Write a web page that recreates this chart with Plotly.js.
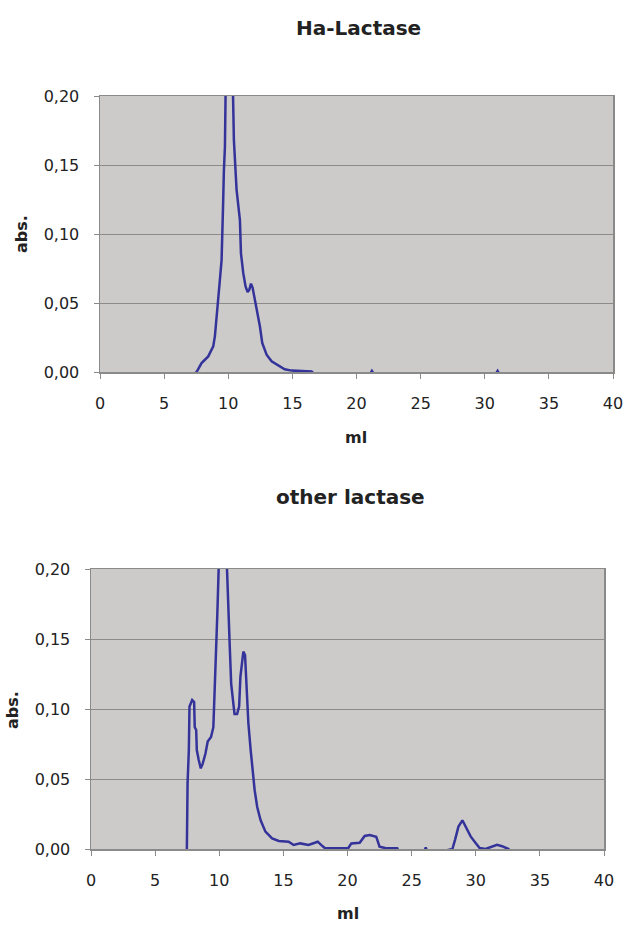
<!DOCTYPE html>
<html>
<head>
<meta charset="utf-8">
<script src="https://cdn.plot.ly/plotly-3.0.1.min.js"></script>
<style>html,body{margin:0;padding:0;background:#fff;}#chart{width:628px;height:928px;}</style>
</head>
<body>
<div id="chart"></div>
<script>
// Ha-Lactase elution profile
const haMl  = [0, 7.0, 7.53, 7.92, 8.44, 8.83, 8.96, 9.09, 9.22, 9.35, 9.48, 9.56, 9.6, 9.66, 9.74, 9.79, 9.95, 10.1, 10.25, 10.39, 10.44, 10.65, 10.91, 10.99, 11.17, 11.35, 11.51, 11.64, 11.77, 11.9, 12.08, 12.29, 12.47, 12.65, 12.99, 13.38, 13.9, 14.4, 14.94, 15.7, 16.5, 17.0, 20.9, 21.2, 21.5, 30.7, 31.0, 31.3, 40];
const haAbs = [-0.004, -0.004, 0.0, 0.0065, 0.0113, 0.0186, 0.026, 0.038, 0.052, 0.067, 0.081, 0.100, 0.122, 0.146, 0.163, 0.200, 0.260, 0.300, 0.260, 0.200, 0.168, 0.132, 0.110, 0.086, 0.0716, 0.062, 0.058, 0.0595, 0.064, 0.061, 0.052, 0.0427, 0.033, 0.021, 0.0125, 0.0077, 0.0046, 0.002, 0.001, 0.0005, 0.0003, -0.004, -0.004, 0.0008, -0.004, -0.004, 0.0008, -0.004, -0.004];

// other lactase elution profile
const otMl  = [0, 7.47, 7.53, 7.63, 7.68, 7.89, 8.04, 8.09, 8.2, 8.25, 8.4, 8.56, 8.71, 8.92, 9.1, 9.36, 9.54, 9.61, 9.74, 9.85, 9.95, 10.1, 10.3, 10.45, 10.59, 10.67, 10.82, 10.93, 11.08, 11.19, 11.39, 11.55, 11.65, 11.75, 11.88, 12.01, 12.11, 12.27, 12.45, 12.58, 12.76, 12.96, 13.22, 13.6, 14.12, 14.64, 15.41, 15.8, 16.31, 16.96, 17.35, 17.68, 17.94, 18.25, 20.05, 20.3, 20.95, 21.34, 21.73, 22.24, 22.5, 23.0, 23.88, 24.1, 25.9, 26.1, 26.3, 28.18, 28.39, 28.65, 28.96, 29.27, 29.6, 29.99, 30.3, 30.76, 31.28, 31.66, 32.05, 32.56, 32.8, 40];
const otAbs = [-0.004, -0.004, 0.047, 0.0707, 0.1017, 0.1064, 0.105, 0.087, 0.085, 0.0707, 0.0636, 0.0576, 0.061, 0.068, 0.0767, 0.080, 0.087, 0.104, 0.1326, 0.168, 0.199, 0.240, 0.260, 0.240, 0.199, 0.178, 0.1445, 0.118, 0.104, 0.0964, 0.0964, 0.1017, 0.123, 0.130, 0.141, 0.1386, 0.118, 0.090, 0.0707, 0.0564, 0.042, 0.030, 0.0207, 0.0124, 0.0076, 0.0057, 0.0052, 0.0029, 0.004, 0.0029, 0.004, 0.0052, 0.0029, 0.0005, 0.0005, 0.004, 0.0045, 0.0093, 0.010, 0.0088, 0.0017, 0.0005, 0.0005, -0.004, -0.004, 0.0012, -0.004, 0.0, 0.0067, 0.016, 0.0205, 0.015, 0.009, 0.0043, 0.0007, 0.0, 0.002, 0.003, 0.002, 0.0, -0.004, -0.004];

const xTicks = [0, 5, 10, 15, 20, 25, 30, 35, 40];
const yTicks = [0, 0.05, 0.10, 0.15, 0.20];
const chartTitles = ["Ha-Lactase", "other lactase"];

const lineColor = '#33339a';
const font = 'DejaVu Sans, Verdana, sans-serif';
const txt = '#222';

function xAxis(domain, anchor) {
  return {
    domain: domain, anchor: anchor, range: [0, 40], tickvals: xTicks,
    ticks: 'outside', ticklen: 5, tickcolor: '#8a8a8a', ticklabelstandoff: 11,
    showgrid: false, zeroline: false,
    showline: true, linecolor: '#8a8a8a', linewidth: 1.5, mirror: true,
    tickfont: {family: font, size: 16, color: txt}, fixedrange: true
  };
}
function yAxis(domain, anchor) {
  return {
    domain: domain, anchor: anchor, range: [0, 0.2], tickvals: yTicks, tickformat: '.2f',
    ticks: 'outside', ticklen: 5, tickcolor: '#8a8a8a', ticklabelstandoff: 11,
    showgrid: true, gridcolor: '#8c8a8a', gridwidth: 1,
    zeroline: false, showline: true, linecolor: '#8a8a8a', linewidth: 1.5, mirror: true,
    tickfont: {family: font, size: 16, color: txt}, fixedrange: true
  };
}

const traces = [
  {x: haMl, y: haAbs, xaxis: 'x', yaxis: 'y', type: 'scatter', mode: 'lines',
   line: {color: lineColor, width: 2.5}, hoverinfo: 'skip'},
  {x: otMl, y: otAbs, xaxis: 'x2', yaxis: 'y2', type: 'scatter', mode: 'lines',
   line: {color: lineColor, width: 2.5}, hoverinfo: 'skip'}
];

const H = 928, W = 628;
function ann(text, xpx, ypx, size, angle) {
  return {text: '<b>' + text + '</b>', x: xpx / W, y: (H - ypx) / H, xref: 'paper', yref: 'paper',
    xanchor: 'center', yanchor: 'middle', showarrow: false, textangle: angle || 0,
    font: {family: font, size: size, color: txt}};
}
const layout = {
  width: W, height: H, margin: {l: 0, r: 0, t: 0, b: 0},
  paper_bgcolor: '#ffffff', plot_bgcolor: '#cdcaca', showlegend: false,
  separators: ',.',
  xaxis: xAxis([100 / W, 613 / W], 'y'),
  yaxis: yAxis([(H - 372) / H, (H - 96) / H], 'x'),
  xaxis2: xAxis([91 / W, 604 / W], 'y2'),
  yaxis2: yAxis([(H - 849) / H, (H - 569) / H], 'x2'),
  annotations: [
    ann(chartTitles[0], 358, 28, 20),
    ann(chartTitles[1], 350, 497, 20),
    ann('ml', 356, 438, 16),
    ann('ml', 348, 913, 16),
    ann('abs.', 21, 234, 16, -90),
    ann('abs.', 12, 710, 16, -90)
  ]
};

Plotly.newPlot('chart', traces, layout, {staticPlot: true, displayModeBar: false});
</script>
</body>
</html>
